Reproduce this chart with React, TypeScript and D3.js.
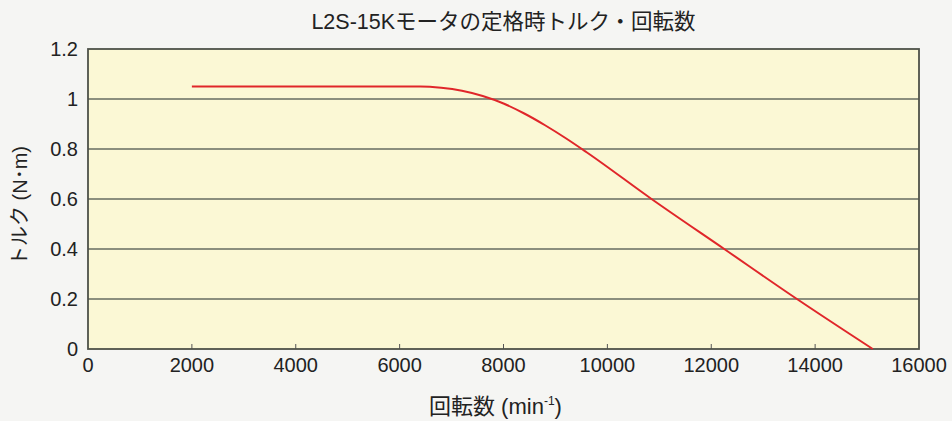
import React from "react";
import * as d3 from "d3";

const TITLE = "L2S-15Kモータの定格時トルク・回転数";
const X_LABEL_MAIN = "回転数 (min";
const Y_LABEL = "トルク (N･m)";

const rpmValues = [2000, 6400, 6800, 7200, 7600, 8000, 8400, 8800, 9200, 9600, 10850, 12250, 13650, 15110];
const torqueValues = [1.05, 1.05, 1.045, 1.033, 1.012, 0.982, 0.942, 0.895, 0.843, 0.787, 0.6, 0.4, 0.2, 0];

const xTicks = [0, 2000, 4000, 6000, 8000, 10000, 12000, 14000, 16000];
const yTicks = [0, 0.2, 0.4, 0.6, 0.8, 1, 1.2];

const W = 952;
const H = 421;
const M = { left: 88, right: 919, top: 49, bottom: 349 };
const FONT = "Liberation Sans, Arial, 'Noto Sans CJK JP', sans-serif";

export default function App() {
  const x = d3.scaleLinear().domain([0, 16000]).range([M.left, M.right]);
  const y = d3.scaleLinear().domain([0, 1.2]).range([M.bottom, M.top]);
  const pts: [number, number][] = rpmValues.map((r, i) => [r, torqueValues[i]]);
  const line = d3
    .line<[number, number]>()
    .x((d) => x(d[0]))
    .y((d) => y(d[1]))
    .curve(d3.curveMonotoneX);

  return (
    <svg
      width={W}
      height={H}
      style={{ position: "absolute", left: 0, top: 0, background: "#f5f5f3" }}
    >
      <rect x={0} y={0} width={W} height={H} fill="#f5f5f3" />
      <text
        x={(M.left + M.right) / 2 + 0}
        y={29}
        textAnchor="middle"
        fontFamily={FONT}
        fontSize={21.5}
        fill="#222"
      >
        {TITLE}
      </text>
      <rect
        x={M.left}
        y={M.top}
        width={M.right - M.left}
        height={M.bottom - M.top}
        fill="#fbf8d5"
      />
      {yTicks.map((t) => (
        <g key={t}>
          {t > 0 && t < 1.2 && (
            <line x1={M.left} x2={M.right} y1={y(t)} y2={y(t)} stroke="#666c60" strokeWidth={1.6} />
          )}
          <text
            x={M.left - 10}
            y={y(t) + 7}
            textAnchor="end"
            fontFamily={FONT}
            fontSize={20}
            fill="#222"
          >
            {t}
          </text>
        </g>
      ))}
      {xTicks.map((t) => (
        <g key={t}>
          {t > 0 && t < 16000 && (
            <line x1={x(t)} x2={x(t)} y1={M.bottom} y2={M.bottom - 5} stroke="#555" strokeWidth={1} />
          )}
          <text
            x={x(t)}
            y={M.bottom + 23}
            textAnchor="middle"
            fontFamily={FONT}
            fontSize={20}
            fill="#222"
          >
            {t}
          </text>
        </g>
      ))}
      <rect
        x={M.left}
        y={M.top}
        width={M.right - M.left}
        height={M.bottom - M.top}
        fill="none"
        stroke="#4e5249"
        strokeWidth={1.8}
      />
      <path d={line(pts) || ""} fill="none" stroke="#e0262a" strokeWidth={2} />
      <text
        x={429}
        y={414}
        textAnchor="start"
        fontFamily={FONT}
        fontSize={22}
        fill="#222"
      >
        {X_LABEL_MAIN}
        <tspan fontSize={12} dy={-9}>-1</tspan>
        <tspan dy={9}>)</tspan>
      </text>
      <text
        transform={`translate(27, 206) rotate(-90)`}
        textAnchor="middle"
        fontFamily={FONT}
        fontSize={20}
        fill="#222"
      >
        {Y_LABEL}
      </text>
    </svg>
  );
}
